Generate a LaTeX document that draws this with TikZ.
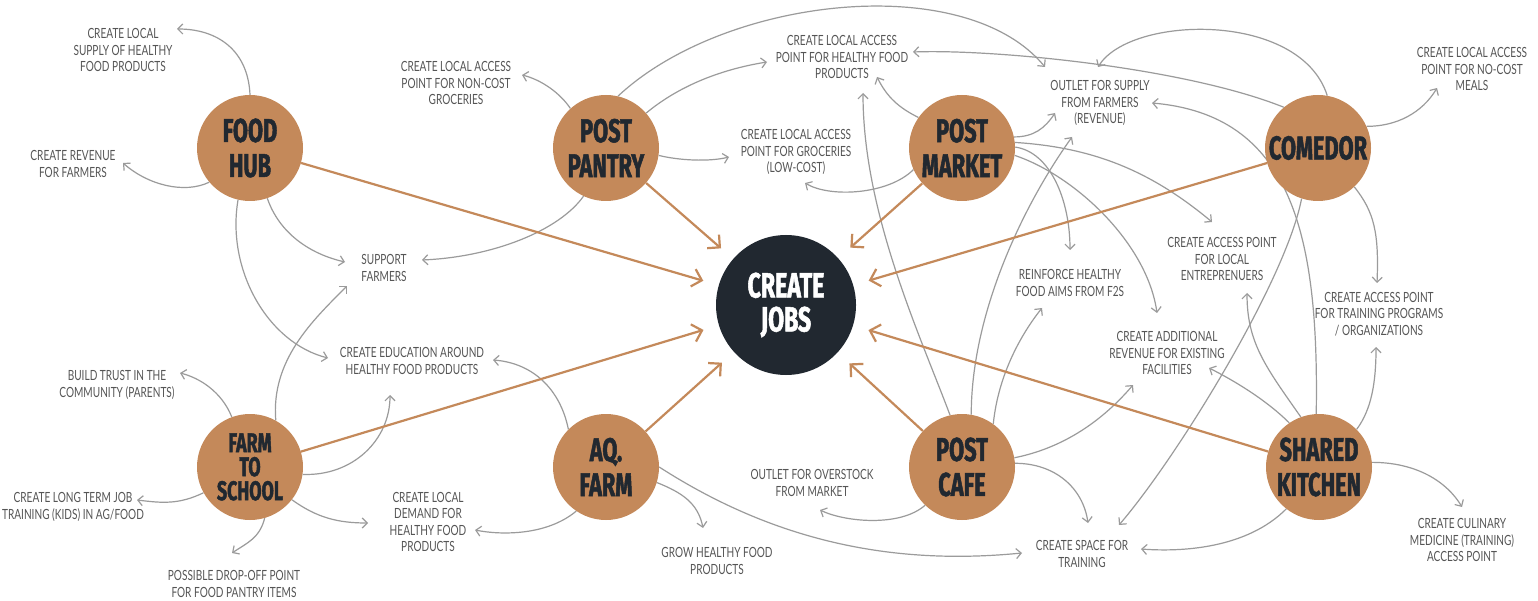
\documentclass[tikz,border=0pt]{standalone}
\usepackage{fontspec}
\usetikzlibrary{arrows.meta,calc}
\newfontfamily\lblfont{Lato}[FakeStretch=0.72]
\newfontfamily\hubfont{Fira Sans}[FakeStretch=0.66, BoldFeatures={FakeBold=1.5}]
\definecolor{hubbrown}{RGB}{196,137,90}
\definecolor{jobsdark}{RGB}{33,40,48}
\definecolor{txtgray}{RGB}{85,85,85}
\definecolor{linegray}{RGB}{155,155,155}
\pgfdeclarelayer{bg}
\pgfsetlayers{bg,main}
\tikzset{
 hub/.style={circle, fill=hubbrown, minimum size=106pt, inner sep=0pt, align=center, text=jobsdark, font=\hubfont\bfseries\fontsize{33}{35}\selectfont},
 smallhub/.style={hub, font=\hubfont\bfseries\fontsize{27}{24}\selectfont},
 jobsnode/.style={circle, fill=jobsdark, minimum size=140pt, inner sep=0pt, align=center, text=white, font=\hubfont\bfseries\fontsize{35}{34}\selectfont},
 lbl/.style={align=center, inner sep=0pt, text=txtgray, font=\lblfont\fontsize{14}{16.6}\selectfont},
 garr/.style={draw=linegray, line width=1.2pt, -{Straight Barb[length=5pt,width=10pt]}},
 barr/.style={draw=hubbrown, line width=2.2pt, shorten >=16pt, -{Straight Barb[length=9pt,width=18pt]}},
}
\begin{document}
\begin{tikzpicture}[x=1pt,y=-1pt]
\begin{pgfonlayer}{bg}
\fill[white] (0,0) rectangle (1538,601);
\end{pgfonlayer}
\useasboundingbox (0,0) rectangle (1538,601);
% hubs
\node[hub] (fh) at (250,148) {FOOD\\HUB};
\node[hub] (pp) at (606,148) {POST\\PANTRY};
\node[hub] (pm) at (962,148) {POST\\MARKET};
\node[hub] (co) at (1318,148) {COMEDOR};
\node[smallhub] (fs) at (250,467) {FARM\\TO\\SCHOOL};
\node[hub] (af) at (606,467) {AQ.\\FARM};
\node[hub] (pc) at (962,467) {POST\\CAFE};
\node[hub] (sk) at (1319,467) {SHARED\\KITCHEN};
\node[jobsnode] (jobs) at (786,305) {CREATE\\JOBS};
% labels
\node[lbl] (t1) at (123,50) {CREATE LOCAL\\SUPPLY OF HEALTHY\\FOOD PRODUCTS};
\node[lbl] (t2) at (73,164) {CREATE REVENUE\\FOR FARMERS};
\node[lbl] (t3) at (456,83) {CREATE LOCAL ACCESS\\POINT FOR NON-COST\\GROCERIES};
\node[lbl] (t4) at (384,268) {SUPPORT\\FARMERS};
\node[lbl] (t5) at (412,361) {CREATE EDUCATION AROUND\\HEALTHY FOOD PRODUCTS};
\node[lbl] (t6) at (842,57) {CREATE LOCAL ACCESS\\POINT FOR HEALTHY FOOD\\PRODUCTS};
\node[lbl] (t7) at (796,152) {CREATE LOCAL ACCESS\\POINT FOR GROCERIES\\(LOW-COST)};
\node[lbl] (t8) at (1100,103) {OUTLET FOR SUPPLY\\FROM FARMERS\\(REVENUE)};
\node[lbl] (t9) at (1472,69) {CREATE LOCAL ACCESS\\POINT FOR NO-COST\\MEALS};
\node[lbl] (t10) at (1222,259) {CREATE ACCESS POINT\\FOR LOCAL\\ENTREPRENUERS};
\node[lbl] (t11) at (1379,314) {CREATE ACCESS POINT\\FOR TRAINING PROGRAMS\\/ ORGANIZATIONS};
\node[lbl] (t12) at (1082,554) {CREATE SPACE FOR\\TRAINING};
\node[lbl] (t13) at (1462,540) {CREATE CULINARY\\MEDICINE (TRAINING)\\ACCESS POINT};
\node[lbl] (t14) at (1167,353) {CREATE ADDITIONAL\\REVENUE FOR EXISTING\\FACILITIES};
\node[lbl] (t15) at (1070,283) {REINFORCE HEALTHY\\FOOD AIMS FROM F2S};
\node[lbl] (t16) at (117,385) {BUILD TRUST IN THE\\COMMUNITY (PARENTS)};
\node[lbl] (t17) at (73,507) {CREATE LONG TERM JOB\\TRAINING (KIDS) IN AG/FOOD};
\node[lbl] (t18) at (234,584) {POSSIBLE DROP-OFF POINT\\FOR FOOD PANTRY ITEMS};
\node[lbl] (t19) at (428,522) {CREATE LOCAL\\DEMAND FOR\\HEALTHY FOOD\\PRODUCTS};
\node[lbl] (t20) at (717,561) {GROW HEALTHY FOOD\\PRODUCTS};
\node[lbl] (t21) at (812,483) {OUTLET FOR OVERSTOCK\\FROM MARKET};
\begin{pgfonlayer}{bg}
% food hub
\draw[garr] (fh.90) .. controls +(-2,-45) and +(40,0) .. ($(t1)+(54,-21)$);
\draw[garr] (fh.220) .. controls +(-25,12) and +(25,22) .. ($(t2)+(50,-1)$);
\draw[garr] (fh.289) .. controls +(12,35) and +(-35,-8) .. ($(t4)+(-39,-6)$);
\draw[garr] (fh.257) .. controls +(-12,70) and +(-60,-15) .. ($(t5)+(-84,-3)$);
% post pantry
\draw[garr] (pp.132) .. controls +(-10,-15) and +(20,5) .. ($(t3)+(66,-8)$);
\draw[garr] (pp.77) .. controls +(107,-100) and +(-80,-97) .. ($(t8)+(-55,-36)$);
\draw[garr] (pp.41) .. controls +(30,-25) and +(-50,8) .. ($(t6)+(-75,5)$);
\draw[garr] (pp.352) .. controls +(20,5) and +(-20,5) .. ($(t7)+(-67,5)$);
\draw[garr] (pp.245) .. controls +(-25,35) and +(70,-3) .. ($(t4)+(38,-8)$);
% post market
\draw[garr] (pm.145) .. controls +(-20,-10) and +(10,20) .. ($(t6)+(35,20)$);
\draw[garr] (pm.204) .. controls +(-25,25) and +(25,15) .. ($(t7)+(9,31)$);
\draw[garr] (pm.12) .. controls +(20,0) and +(-10,15) .. ($(t8)+(-45,10)$);
\draw[garr] (pm.6) .. controls +(80,5) and +(-60,-50) .. ($(t10)+(-10,-37)$);
\draw[garr] (pm.1) .. controls +(35,5) and +(0,-50) .. ($(t15)+(0,-33)$);
\draw[garr] (pm.352) .. controls +(60,20) and +(-10,-70) .. ($(t14)+(-10,-40)$);
% comedor
\draw[garr] (co.130) .. controls +(-100,-40) and +(80,-3) .. ($(t6)+(71,-5)$);
\draw[garr] (co.80) .. controls +(-27,-85) and +(32,-52) .. ($(t8)+(-2,-36)$);
\draw[garr] (co.24) .. controls +(30,0) and +(-15,25) .. ($(t9)+(-35,19)$);
\draw[garr] (co.313) .. controls +(20,25) and +(2,-50) .. ($(t11)+(-2,-31)$);
\draw[garr] (co.252) .. controls +(-15,80) and +(60,-70) .. ($(t12)+(37,-29)$);
% farm to school
\draw[garr] (fs.61) .. controls +(-5,-60) and +(-35,35) .. ($(t4)+(-37,18)$);
\draw[garr] (fs.110) .. controls +(-10,-25) and +(20,5) .. ($(t16)+(63,-12)$);
\draw[garr] (fs.209) .. controls +(-25,12) and +(25,3) .. ($(t17)+(64,-7)$);
\draw[garr] (fs.286) .. controls +(-5,20) and +(15,-10) .. ($(t18)+(-2,-31)$);
\draw[garr] (fs.322) .. controls +(25,18) and +(-30,0) .. ($(t19)+(-60,1)$);
\draw[garr] (fs.352) .. controls +(50,2) and +(0,45) .. ($(t5)+(-22,34)$);
% aq farm
\draw[garr] (af.135) .. controls +(-8,-40) and +(40,3) .. ($(t5)+(81,-1)$);
\draw[garr] (af.236) .. controls +(-30,25) and +(25,5) .. ($(t19)+(47,8)$);
\draw[garr] (af.343) .. controls +(25,10) and +(-5,-25) .. ($(t20)+(-14,-33)$);
\draw[garr] (af.0) .. controls +(121,78) and +(-122,12) .. ($(t12)+(-60,-1)$);
% post cafe
\draw[garr] (pc.226) .. controls +(-25,22) and +(25,12) .. ($(t21)+(8,27)$);
\draw[garr] (pc.103) .. controls +(-30,-80) and +(0,120) .. ($(t6)+(21,36)$);
\draw[garr] (pc.80) .. controls +(0,-100) and +(-50,70) .. ($(t8)+(-28,34)$);
\draw[garr] (pc.54) .. controls +(5,-50) and +(-20,25) .. ($(t15)+(-28,25)$);
\draw[garr] (pc.10) .. controls +(50,-10) and +(-30,35) .. ($(t14)+(-34,32)$);
\draw[garr] (pc.4) .. controls +(40,0) and +(-5,-35) .. ($(t12)+(6,-31)$);
% shared kitchen
\draw[garr] (sk.124) .. controls +(-25,-25) and +(20,10) .. ($(t14)+(42,15)$);
\draw[garr] (sk.110) .. controls +(-35,-50) and +(0,50) .. ($(t10)+(25,34)$);
\draw[garr] (sk.93) .. controls +(3,-183) and +(138,12) .. ($(t8)+(52,0)$);
\draw[garr] (sk.45) .. controls +(15,-20) and +(0,35) .. ($(t11)+(-3,33)$);
\draw[garr] (sk.5) .. controls +(45,0) and +(-15,-25) .. ($(t13)+(0,-33)$);
\draw[garr] (sk.232) .. controls +(-40,40) and +(40,3) .. ($(t12)+(59,-5)$);
% brown to jobs
\draw[barr] (fh) -- (jobs);
\draw[barr] (pp) -- (jobs);
\draw[barr] (pm) -- (jobs);
\draw[barr] (co) -- (jobs);
\draw[barr] (fs) -- (jobs);
\draw[barr] (af) -- (jobs);
\draw[barr] (pc) -- (jobs);
\draw[barr] (sk) -- (jobs);
\end{pgfonlayer}
\end{tikzpicture}
\end{document}
